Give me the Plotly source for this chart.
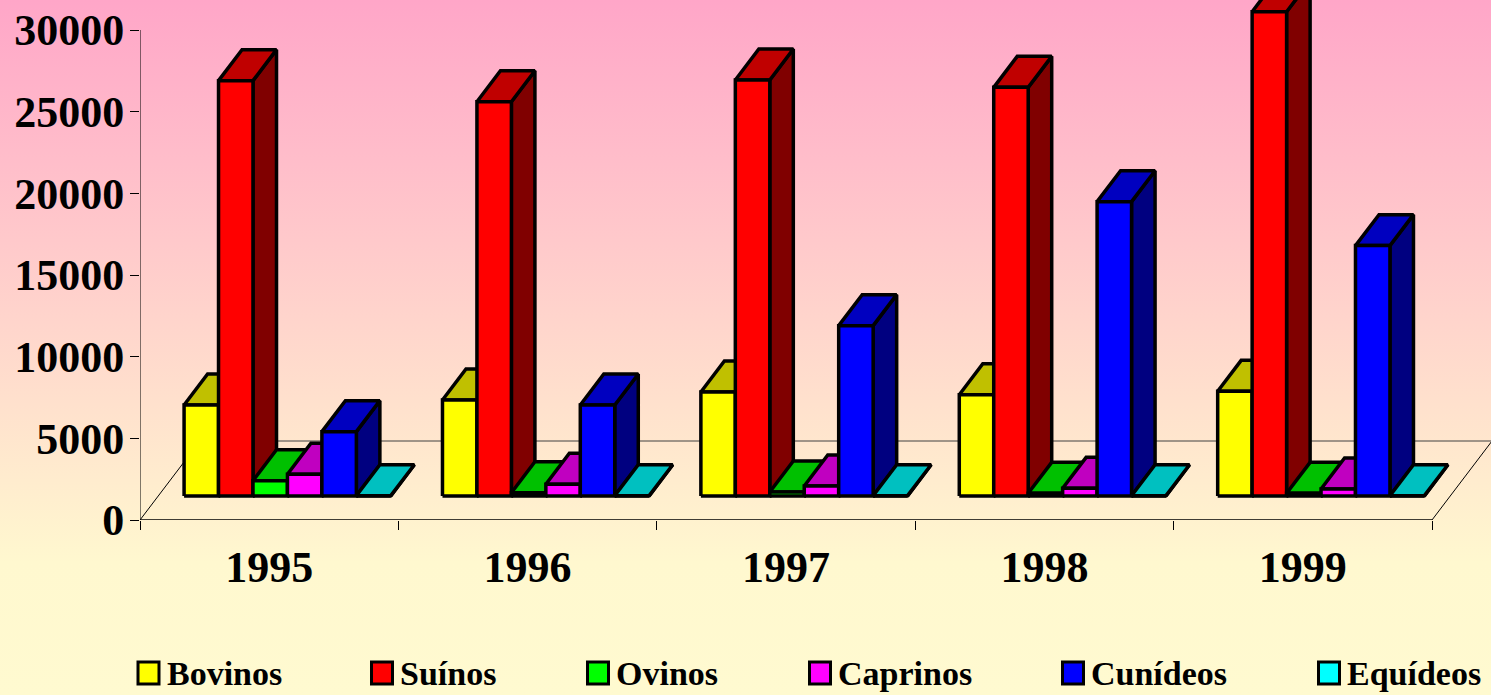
import plotly.graph_objs as go

# data
years = ['1995', '1996', '1997', '1998', '1999']
series_names = ['Bovinos', 'Suínos', 'Ovinos', 'Caprinos', 'Cunídeos', 'Equídeos']
bovinos = [5570, 5880, 6370, 6200, 6410]
suinos = [25430, 24140, 25470, 25020, 29650]
ovinos = [940, 200, 245, 165, 165]
caprinos = [1330, 720, 610, 470, 430]
cunideos = [3940, 5570, 10430, 18020, 15330]
equideos = [20, 20, 20, 20, 20]
y_ticks = [0, 5000, 10000, 15000, 20000, 25000, 30000]

series_values = [bovinos, suinos, ovinos, caprinos, cunideos, equideos]

# front / top / side colours per series
face_colors = [
    ('#FFFF00', '#C0C000', '#808000'),
    ('#FF0000', '#C00000', '#800000'),
    ('#00FF00', '#00C000', '#008000'),
    ('#FF00FF', '#C000C0', '#800080'),
    ('#0000FF', '#0000C0', '#000080'),
    ('#00FFFF', '#00C0C0', '#008080'),
]

# geometry of the fake 3d projection (axis units)
W, H = 1491, 695
px_per_cat = 258.4
px_per_val = 490 / 30000
gap = 0.1
bar_w = (1 - 2 * gap) / len(series_names)
depth_x = 60 / px_per_cat
depth_y = 79 / px_per_val
f0, f1 = 0.304, 0.696
x_max = (W - 140) / px_per_cat
y_max = 520 / px_per_val

font_family = 'Liberation Serif, Times New Roman, serif'

fig = go.Figure()

# background gradient on its own full-page subplot
fig.add_trace(go.Scatter(
    x=[0, 1, 1, 0, 0], y=[0, 0, 1, 1, 0], mode='lines', fill='toself',
    line=dict(width=0), hoverinfo='skip', showlegend=False,
    fillgradient=dict(type='vertical', colorscale=[[0, '#FFFAD0'], [0.19, '#FFF8CF'], [1, '#FFA6C8']]),
    xaxis='x', yaxis='y'))


def add_poly(xs, ys, color):
    fig.add_trace(go.Scatter(
        x=xs, y=ys, mode='lines', fill='toself', fillcolor=color,
        line=dict(color='black', width=3.5), hoverinfo='skip', showlegend=False,
        xaxis='x2', yaxis='y2'))


ddx = (f1 - f0) * depth_x
ddy = (f1 - f0) * depth_y

# bars drawn left to right so right bars cover the sides of left bars
for j, values in enumerate(series_values):
    front_x, front_y, top_x, top_y, side_x, side_y = [], [], [], [], [], []
    for i, v in enumerate(values):
        x0 = i + gap + j * bar_w + f0 * depth_x
        x1 = x0 + bar_w
        y0 = f0 * depth_y
        y1 = y0 + v
        front_x += [x0, x1, x1, x0, x0, None]
        front_y += [y0, y0, y1, y1, y0, None]
        top_x += [x0, x1, x1 + ddx, x0 + ddx, x0, None]
        top_y += [y1, y1, y1 + ddy, y1 + ddy, y1, None]
        side_x += [x1, x1 + ddx, x1 + ddx, x1, x1, None]
        side_y += [y0, y0 + ddy, y1 + ddy, y1, y0, None]
    front_c, top_c, side_c = face_colors[j]
    add_poly(side_x, side_y, side_c)
    add_poly(top_x, top_y, top_c)
    add_poly(front_x, front_y, front_c)

# floor outline and value axis line
n = len(years)
floor_lines = [
    (0, 0, n, 0, 'black', 1.5),
    (0, 0, depth_x, depth_y, 'black', 1),
    (depth_x, depth_y, n + depth_x, depth_y, '#404040', 1),
    (n, 0, n + depth_x, depth_y, 'black', 1),
    (0, 0, 0, y_ticks[-1], 'black', 1),
]
for xa, ya, xb, yb, c, w in floor_lines:
    fig.add_shape(type='line', xref='x2', yref='y2', x0=xa, y0=ya, x1=xb, y1=yb,
                  line=dict(color=c, width=w), layer='below')

# manual legend
legend_keys = [136.5, 370, 586, 808, 1061, 1317]
for name, kx, colors in zip(series_names, legend_keys, face_colors):
    fig.add_shape(type='rect', xref='paper', yref='paper',
                  x0=(kx + 1.5) / W, x1=(kx + 22.5) / W,
                  y0=(H - 684) / H, y1=(H - 662) / H,
                  fillcolor=colors[0], line=dict(color='black', width=3))
    fig.add_annotation(x=(kx + 28) / W, y=(H - 673) / H, xref='paper', yref='paper',
                       xanchor='left', yanchor='middle', text=name, showarrow=False,
                       font=dict(family=font_family, size=34, color='black', weight='bold'))

fig.update_layout(
    width=W, height=H,
    margin=dict(l=0, r=0, t=0, b=0),
    paper_bgcolor='#FFFAD0',
    plot_bgcolor='rgba(0,0,0,0)',
    showlegend=False,
    xaxis=dict(domain=[0, 1], range=[0, 1], visible=False, fixedrange=True),
    yaxis=dict(domain=[0, 1], range=[0, 1], visible=False, fixedrange=True),
    xaxis2=dict(
        domain=[140 / W, 1], range=[0, x_max], anchor='y2',
        tickvals=[i + 0.5 for i in range(n)], ticktext=years, ticks='',
        minor=dict(tickvals=list(range(n + 1)), ticks='outside', ticklen=9,
                   tickwidth=1, tickcolor='black', showgrid=False),
        showgrid=False, zeroline=False, showline=False, automargin=False,
        ticklabelstandoff=17,
        tickfont=dict(family=font_family, size=44, color='black', weight='bold')),
    yaxis2=dict(
        domain=[(H - 520) / H, 1], range=[0, y_max], anchor='x2',
        tickvals=y_ticks, tickformat='d', ticks='outside', ticklen=9,
        tickwidth=1, tickcolor='black',
        showgrid=False, zeroline=False, showline=False, automargin=False,
        ticklabelstandoff=-3,
        tickfont=dict(family=font_family, size=44, color='black', weight='bold')),
)

# drop the default page margin so the chart fills the window
fig.write_html('out.html', config={'displayModeBar': False},
               post_script="document.body.style.margin='0';")
